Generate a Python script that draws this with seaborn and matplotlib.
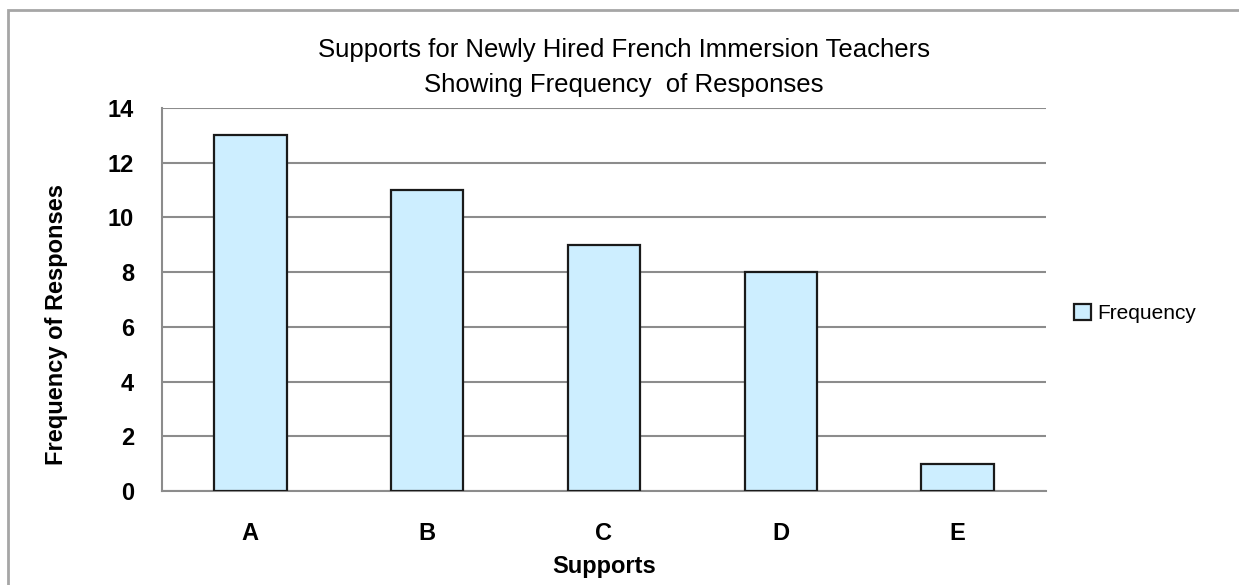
import matplotlib
matplotlib.use("Agg")
import matplotlib.pyplot as plt
import matplotlib.patches as mpatches
import seaborn as sns
import pandas as pd

supports = ["A", "B", "C", "D", "E"]
frequency = [13, 11, 9, 8, 1]
title_lines = ["Supports for Newly Hired French Immersion Teachers",
               "Showing Frequency  of Responses"]
y_ticks = [0, 2, 4, 6, 8, 10, 12, 14]

sns.set_theme(style="white")
plt.rcParams["font.family"] = ["Liberation Sans", "DejaVu Sans"]
plt.rcParams["text.color"] = "black"
plt.rcParams["axes.labelcolor"] = "black"

df = pd.DataFrame({"Supports": supports, "Frequency": frequency})

fig = plt.figure(figsize=(12.39, 5.85), dpi=100)
ax = fig.add_axes([162 / 1239, 1 - 491 / 585, (1046 - 162) / 1239, (491 - 108) / 585])

grid_c = "#8c8c8c"
sns.barplot(data=df, x="Supports", y="Frequency", ax=ax, color="#cdeeff",
            edgecolor="#1a1a1a", linewidth=1.6, width=0.41, saturation=1,
            label="Frequency", zorder=3)

ax.set_ylim(0, 14)
ax.set_xlim(-0.5, len(supports) - 0.5)
ax.set_yticks(y_ticks)
ax.set_yticklabels([str(v) for v in y_ticks], fontsize=17, fontweight="bold")
ax.yaxis.grid(True, color=grid_c, linewidth=1.5, zorder=0)
ax.xaxis.grid(False)

# category labels centred, tick marks on the category boundaries
ax.set_xticks(range(len(supports)))
ax.set_xticklabels(supports, fontsize=17, fontweight="bold")
ax.tick_params(axis="x", which="major", length=0, pad=22)
ax.set_xticks([i - 0.5 for i in range(len(supports) + 1)], minor=True)
ax.tick_params(axis="x", which="minor", length=10, width=1.5, color=grid_c, direction="out")
ax.tick_params(axis="y", length=10, width=1.5, color=grid_c, direction="out", pad=10)
ax.tick_params(axis="both", labelcolor="black")

for side in ["top", "right"]:
    ax.spines[side].set_visible(False)
for side in ["left", "bottom"]:
    ax.spines[side].set_visible(True)
    ax.spines[side].set_color(grid_c)
    ax.spines[side].set_linewidth(1.5)

ax.set_xlabel("Supports", fontsize=17, fontweight="bold")
ax.xaxis.set_label_coords(0.5, -(555 - 491) / 383)
ax.set_ylabel("Frequency of Responses", fontsize=17, fontweight="bold")
ax.yaxis.set_label_coords(-(162 - 68) / 884, 1 - (324 - 108) / 383)

fig.text(624 / 1239, 1 - 50 / 585, title_lines[0], ha="center", va="center",
         fontsize=18.5)
fig.text(624 / 1239, 1 - 85 / 585, title_lines[1], ha="center", va="center",
         fontsize=18.5)

ax.legend(loc="center left", bbox_to_anchor=(1.0, 0.463), frameon=False,
          prop={"size": 15}, handlelength=0.8, handleheight=0.8,
          handletextpad=0.3, borderaxespad=0.95, labelcolor="black")

# outer chart frame
fig.add_artist(mpatches.Rectangle((8 / 1239, -0.1), 1.2, 1 - 10 / 585 + 0.1,
                                  transform=fig.transFigure, fill=False,
                                  edgecolor="#a6a6a6", linewidth=2))

fig.savefig("out.png", dpi=100)
